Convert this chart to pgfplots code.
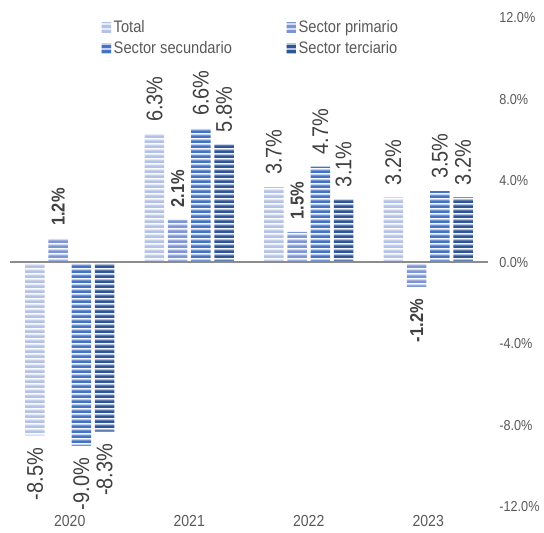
\documentclass[border=0pt]{standalone}
\usepackage{fontspec}
\setmainfont{Liberation Sans}[FakeStretch=0.88]
\usepackage{pgfplots}
\usepackage{pgfplotstable}
\pgfplotsset{compat=1.18}
\usetikzlibrary{patterns}

\definecolor{cTotD}{HTML}{B4C2E6}
\definecolor{cTotL}{HTML}{E6EBF7}
\definecolor{cPriD}{HTML}{7D95D4}
\definecolor{cPriL}{HTML}{D3DCF2}
\definecolor{cSecD}{HTML}{4472C4}
\definecolor{cSecL}{HTML}{C3D1EE}
\definecolor{cTerD}{HTML}{2F5597}
\definecolor{cTerL}{HTML}{B5C3DE}
\definecolor{txt}{HTML}{404040}
\definecolor{tickc}{HTML}{595959}
\definecolor{zeroc}{HTML}{8C8C8C}

% striped fills: light ground, dark band (tile as wide as the picture, no seams)
\newcommand\stripes[3]{%
  \pgfdeclarepatterninherentlycolored{#1}{\pgfpointorigin}{\pgfpoint{420pt}{3.75pt}}{\pgfpoint{420pt}{3.75pt}}{%
    \pgfsetfillcolor{#2}\pgfpathrectangle{\pgfpointorigin}{\pgfpoint{420pt}{3.75pt}}\pgfusepath{fill}%
    \pgfsetfillcolor{#3}\pgfpathrectangle{\pgfpointorigin}{\pgfpoint{420pt}{2.3pt}}\pgfusepath{fill}}}
\stripes{stT}{cTotL}{cTotD}
\stripes{stP}{cPriL}{cPriD}
\stripes{stS}{cSecL}{cSecD}
\stripes{stR}{cTerL}{cTerD}

\pgfplotstableread{
x y
0 -8.5
1 6.3
2 3.7
3 3.2
}\tTotal
\pgfplotstableread{
x y
0 1.2
1 2.1
2 1.5
3 -1.2
}\tPrim
\pgfplotstableread{
x y
0 -9.0
1 6.6
2 4.7
3 3.5
}\tSec
\pgfplotstableread{
x y
0 -8.3
1 5.8
2 3.1
3 3.2
}\tTer

\pgfplotsset{
  lab/.style={
    nodes near coords={\pgfmathprintnumber[fixed,fixed zerofill,precision=1,assume math mode=true]{\pgfplotspointmeta}\%},
    visualization depends on={y \as \yv},
    every node near coord/.append style={rotate=90,
      anchor={\ifdim\yv pt<0pt east\else west\fi}, text=txt,
      inner xsep=9pt, inner ysep=0pt, font=\fontsize{17}{19}\selectfont},
  },
}

\begin{document}
\begin{tikzpicture}
\useasboundingbox (-7.5pt,-19.5pt) rectangle (400.5pt,380.25pt);
\begin{axis}[
  at={(0pt,0pt)}, anchor=south west,
  scale only axis, width=358.5pt, height=366.75pt,
  ybar=2.8pt, bar width=14.6pt,
  xmin=-0.5, xmax=3.5, ymin=-12, ymax=12,
  xtick={0,1,2,3}, xticklabels={2020,2021,2022,2023},
  ytick={-12,-8,-4,0,4,8,12},
  yticklabel pos=right,
  yticklabel={\pgfmathprintnumber[fixed,fixed zerofill,precision=1,assume math mode=true]{\tick}\%},
  yticklabel style={font=\fontsize{10.8}{12}\selectfont, text=tickc, anchor=west, xshift=5pt},
  xticklabel style={font=\fontsize{12}{14}\selectfont, text=tickc, yshift=-3pt},
  axis line style={draw=none}, major tick length=0pt,
  legend image code/.code={\path[#1,draw=none] (0pt,-3.6pt) rectangle (7pt,3.6pt);},
  legend columns=2, legend cell align=left,
  legend style={at={(0.183,1.006)}, anchor=north west, draw=none, fill=none,
    font=\fontsize{12.5}{14}\selectfont, text=tickc, row sep=1pt,
    /tikz/every even column/.append style={column sep=39pt}},
]
\addplot[pattern=stT, draw=none, lab] table[x=x,y=y]{\tTotal};
\addplot[pattern=stP, draw=none, lab,
  every node near coord/.append style={font=\fontsize{14}{16}\bfseries\selectfont}]
  table[x=x,y=y]{\tPrim};
\addplot[pattern=stS, draw=none, lab] table[x=x,y=y]{\tSec};
\addplot[pattern=stR, draw=none, lab] table[x=x,y=y]{\tTer};
\legend{Total, Sector primario, Sector secundario, Sector terciario}
\draw[zeroc, line width=1.5pt] (axis cs:-0.5,0) -- (axis cs:3.5,0);
\end{axis}
\end{tikzpicture}
\end{document}
